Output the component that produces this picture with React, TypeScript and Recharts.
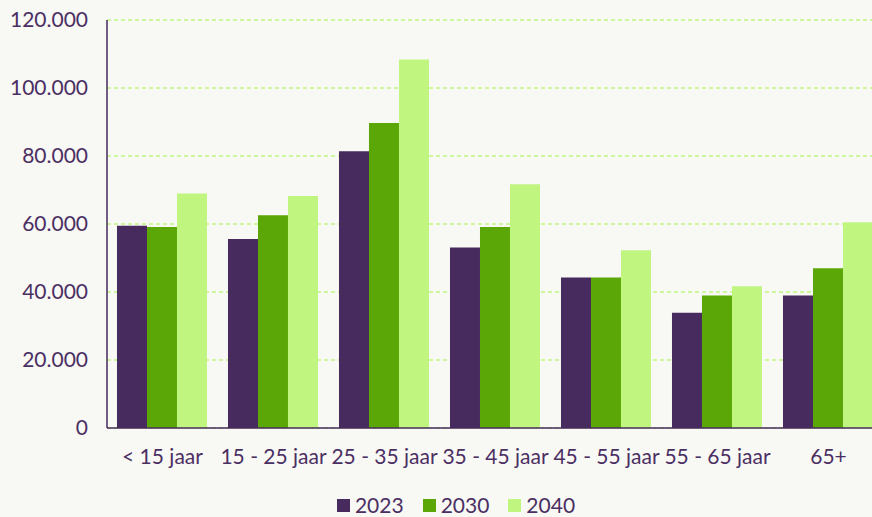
import { BarChart, Bar, XAxis, YAxis, CartesianGrid, Legend } from 'recharts';

const categories = ['< 15 jaar', '15 - 25 jaar', '25 - 35 jaar', '35 - 45 jaar', '45 - 55 jaar', '55 - 65 jaar', '65+'];
const values2023 = [59500, 55600, 81400, 53100, 44300, 33900, 39000];
const values2030 = [59100, 62600, 89700, 59100, 44300, 39000, 47000];
const values2040 = [69000, 68200, 108400, 71700, 52300, 41700, 60500];
const yTicks = [0, 20000, 40000, 60000, 80000, 100000, 120000];

const PURPLE = '#472b5e';
const GREEN = '#5aa707';
const LIGHT = '#c0f580';
const TEXT = '#4b2f63';

const formatNl = (v: number) => String(v).replace(/\B(?=(\d{3})+(?!\d))/g, '.');

const data = categories.map((name, i) => ({
  name,
  y2023: values2023[i],
  y2030: values2030[i],
  y2040: values2040[i],
}));

const LegendContent = ({ payload }: any) => (
  <div style={{ display: 'flex', justifyContent: 'center', fontSize: 21, color: TEXT, lineHeight: '24px' }}>
    {(payload || []).map((entry: any, i: number) => (
      <div key={i} style={{ display: 'flex', alignItems: 'center', marginRight: i < payload.length - 1 ? 19 : 0 }}>
        <span style={{ width: 13, height: 13, background: entry.color, marginRight: 5, display: 'inline-block' }} />
        <span>{entry.value}</span>
      </div>
    ))}
  </div>
);

const App = () => {
  return (
    <div style={{ position: 'fixed', left: 0, top: 0, width: 872, height: 517, overflow: 'hidden', background: '#f8f8f4', fontFamily: 'Lato, sans-serif' }}>
      <BarChart
        width={900}
        height={517}
        data={data}
        margin={{ top: 20, right: 16, left: 0, bottom: 0 }}
        barCategoryGap="9%"
        barGap={0}
      >
        <CartesianGrid vertical={false} stroke={LIGHT} strokeDasharray="4 3" strokeWidth={1.5} />
        <XAxis
          dataKey="name"
          stroke={PURPLE}
          strokeWidth={1.5}
          tickLine={false}
          tickSize={0}
          tickMargin={21}
          height={65}
          interval={0}
          tick={{ fill: TEXT, fontSize: 21 }}
        />
        <YAxis
          width={107}
          domain={[0, 120000]}
          ticks={yTicks}
          stroke={PURPLE}
          strokeWidth={1.5}
          tickLine={false}
          tickSize={0}
          tickMargin={19}
          tickFormatter={formatNl}
          tick={{ fill: TEXT, fontSize: 21 }}
        />
        <Legend
          verticalAlign="bottom"
          content={<LegendContent />}
          wrapperStyle={{ left: 0, width: 912 }}
        />
        <Bar dataKey="y2023" name="2023" fill={PURPLE} isAnimationActive={false} />
        <Bar dataKey="y2030" name="2030" fill={GREEN} isAnimationActive={false} />
        <Bar dataKey="y2040" name="2040" fill={LIGHT} isAnimationActive={false} />
      </BarChart>
    </div>
  );
};

export default App;
